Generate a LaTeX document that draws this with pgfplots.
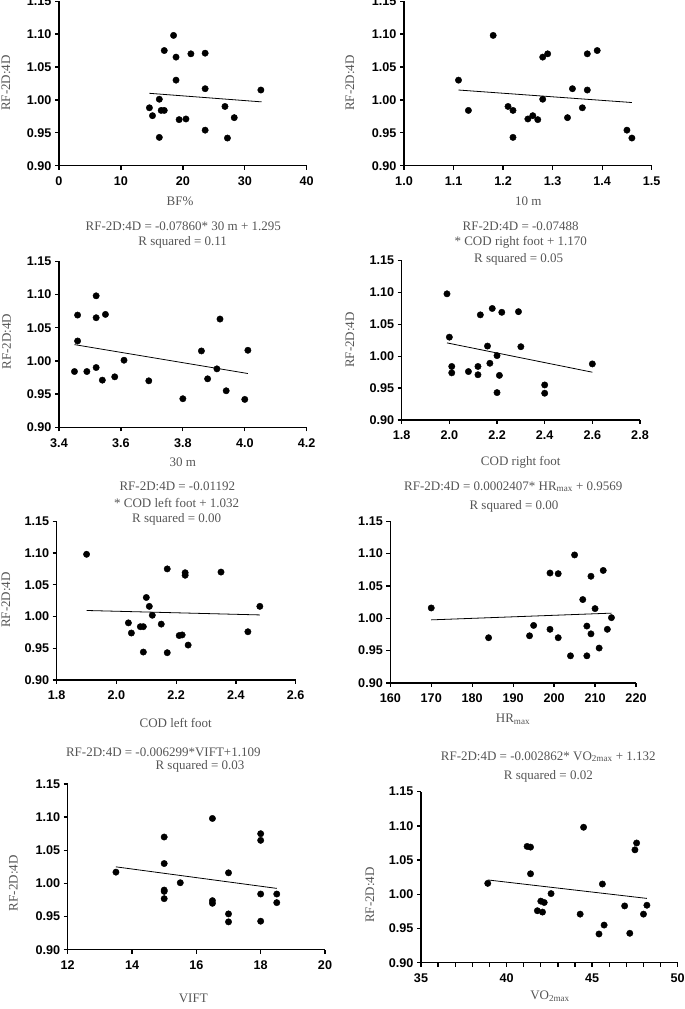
\documentclass[border=0pt]{standalone}
\usepackage{pgfplots}
\pgfplotsset{compat=1.18}
\usepackage{fontspec}
\setmainfont{Liberation Serif}
\newfontfamily\tickfont{Liberation Sans}
\definecolor{lbl}{RGB}{85,85,85}
\pgfkeys{/pgf/number format/assume math mode=true}
\pgfplotsset{
  rf/.style={
    scale only axis,
    axis lines*=left,
    axis line style={line width=1.5pt, black},
    every tick/.style={line width=1.3pt, black},
    tick align=outside,
    major tick length=4pt,
    minor tick length=4pt,
    ymin=0.90, ymax=1.15,
    ytick={0.90,0.95,1.00,1.05,1.10,1.15},
    yticklabel={\pgfmathprintnumber[fixed,fixed zerofill,precision=2]{\tick}},
    ticklabel style={font=\tickfont\bfseries\fontsize{12.6}{13}\selectfont, black},
    xticklabel style={yshift=-3.5pt},
    anchor=south west,
    clip=false,
  },
  pts/.style={only marks, mark=*, mark size=3.2pt, black},
  fit/.style={no marks, black, line width=0.8pt},
  x1/.style={xticklabel={\pgfmathprintnumber[fixed,fixed zerofill,precision=1]{\tick}}},
}
\newcommand{\lf}{\fontsize{13}{15}\selectfont\color{lbl}}
\begin{document}
\begin{tikzpicture}
\path[use as bounding box] (0,0) rectangle (685pt,1009pt);

% ---------- Panel 1: BF%
\begin{axis}[rf, at={(59pt,843.3pt)}, width=247.7pt, height=164.5pt,
  xmin=0, xmax=40, xtick={0,10,20,30,40}]
\addplot[pts] coordinates {(18.5,1.098) (17.0,1.075) (18.9,1.065) (21.3,1.070) (23.6,1.071) (18.9,1.030) (23.6,1.017) (32.6,1.015) (16.2,1.001) (14.6,0.988) (15.1,0.976) (16.5,0.984) (17.0,0.984) (19.4,0.970) (20.5,0.971) (26.8,0.990) (28.3,0.973) (23.6,0.954) (16.2,0.943) (27.2,0.942)};
\addplot[fit] coordinates {(14.6,1.010) (32.7,0.997)};
\end{axis}
\node[rotate=90,inner sep=0] at (6pt,926pt) {\lf RF-2D:4D};
\node[inner sep=0] at (180pt,807.3pt) {\lf BF\%};

% ---------- Panel 2: 10 m
\begin{axis}[rf, x1, at={(404pt,843.3pt)}, width=247.7pt, height=164.5pt,
  xmin=1.0, xmax=1.5, xtick={1.0,1.1,1.2,1.3,1.4,1.5}]
\addplot[pts] coordinates {(1.18,1.098) (1.11,1.030) (1.13,0.984) (1.21,0.990) (1.22,0.984) (1.22,0.943) (1.25,0.971) (1.26,0.976) (1.27,0.970) (1.28,1.001) (1.28,1.065) (1.29,1.070) (1.33,0.973) (1.34,1.017) (1.36,0.988) (1.37,1.070) (1.37,1.015) (1.39,1.075) (1.45,0.954) (1.46,0.942)};
\addplot[fit] coordinates {(1.11,1.015) (1.46,0.996)};
\end{axis}
\node[rotate=90,inner sep=0] at (350pt,926pt) {\lf RF-2D:4D};
\node[inner sep=0] at (528.3pt,808pt) {\lf 10 m};

% ---------- Panel 3: 30 m
\begin{axis}[rf, x1, at={(59pt,581.7pt)}, width=247.7pt, height=166pt,
  xmin=3.4, xmax=4.2, xtick={3.4,3.6,3.8,4.0,4.2}]
\addplot[pts] coordinates {(3.46,1.069) (3.52,1.098) (3.52,1.065) (3.55,1.070) (3.46,1.030) (3.45,0.984) (3.49,0.984) (3.52,0.990) (3.54,0.971) (3.58,0.976) (3.61,1.001) (3.69,0.970) (3.80,0.943) (3.86,1.015) (3.88,0.973) (3.91,0.988) (3.92,1.063) (3.94,0.955) (4.00,0.942) (4.01,1.016)};
\addplot[fit] coordinates {(3.45,1.0245) (4.01,0.981)};
\end{axis}
\node[rotate=90,inner sep=0] at (6.7pt,667.3pt) {\lf RF-2D:4D};
\node[inner sep=0] at (183.3pt,782.3pt) {\lf RF-2D:4D = -0.07860* 30 m + 1.295};
\node[inner sep=0] at (182.7pt,766.7pt) {\lf R squared = 0.11};
\node[inner sep=0] at (182.7pt,546.7pt) {\lf 30 m};

% ---------- Panel 4: COD right foot
\begin{axis}[rf, x1, at={(401.7pt,589pt)}, width=238.3pt, height=159.3pt,
  xmin=1.8, xmax=2.8, xtick={1.8,2.0,2.2,2.4,2.6,2.8}]
\addplot[pts] coordinates {(1.99,1.098) (2.00,1.030) (2.01,0.984) (2.01,0.974) (2.08,0.976) (2.12,0.984) (2.12,0.971) (2.13,1.065) (2.18,1.075) (2.16,1.016) (2.17,0.989) (2.20,1.001) (2.20,0.943) (2.21,0.970) (2.22,1.069) (2.29,1.070) (2.30,1.015) (2.40,0.955) (2.40,0.942) (2.60,0.988)};
\addplot[fit] coordinates {(1.99,1.021) (2.60,0.975)};
\end{axis}
\node[rotate=90,inner sep=0] at (350pt,669pt) {\lf RF-2D:4D};
\node[inner sep=0] at (520.7pt,782.3pt) {\lf RF-2D:4D = -0.07488};
\node[inner sep=0] at (520.7pt,766.3pt) {\lf * COD right foot + 1.170};
\node[inner sep=0] at (518.7pt,750pt) {\lf R squared = 0.05};
\node[inner sep=0] at (520.7pt,547pt) {\lf COD right foot};

% ---------- Panel 5: COD left foot
\begin{axis}[rf, x1, at={(56.7pt,329pt)}, width=239pt, height=158.7pt,
  xmin=1.8, xmax=2.6, xtick={1.8,2.0,2.2,2.4,2.6}]
\addplot[pts] coordinates {(1.90,1.098) (2.17,1.075) (2.23,1.069) (2.23,1.065) (2.35,1.070) (2.10,1.030) (2.11,1.016) (2.12,1.002) (2.15,0.988) (2.04,0.990) (2.05,0.974) (2.08,0.984) (2.09,0.984) (2.09,0.944) (2.21,0.970) (2.22,0.971) (2.17,0.943) (2.24,0.955) (2.44,0.976) (2.48,1.016)};
\addplot[fit] coordinates {(1.90,1.0095) (2.48,1.0025)};
\end{axis}
\node[rotate=90,inner sep=0] at (6pt,409pt) {\lf RF-2D:4D};
\node[inner sep=0] at (177.3pt,522.3pt) {\lf RF-2D:4D = -0.01192};
\node[inner sep=0] at (176.7pt,505.7pt) {\lf * COD left foot + 1.032};
\node[inner sep=0] at (176.7pt,489.3pt) {\lf R squared = 0.00};
\node[inner sep=0] at (175.7pt,286.5pt) {\lf COD left foot};

% ---------- Panel 6: HRmax
\begin{axis}[rf, at={(390.3pt,326pt)}, width=245.7pt, height=161.7pt,
  xmin=160, xmax=220, xtick={160,170,...,220}]
\addplot[pts] coordinates {(170,1.016) (184,0.970) (194,0.973) (195,0.989) (199,1.070) (199,0.983) (201,1.069) (201,0.970) (205,1.098) (204,0.942) (207,1.029) (208,0.942) (208,0.988) (209,1.065) (209,0.976) (210,1.015) (211,0.954) (212,1.074) (213,0.983) (214,1.001)};
\addplot[fit] coordinates {(170,0.9976) (214,1.008)};
\end{axis}
\node[inner sep=0] at (513.3pt,522.3pt) {\lf RF-2D:4D = 0.0002407* HR\textsubscript{max} + 0.9569};
\node[inner sep=0] at (514pt,503pt) {\lf R squared = 0.00};
\node[inner sep=0] at (513pt,290pt) {\lf HR\textsubscript{max}};

% ---------- Panel 7: VIFT
\begin{axis}[rf, at={(67.7pt,59.3pt)}, width=257.3pt, height=165.7pt,
  xmin=12, xmax=20, xtick={12,14,16,18,20}]
\addplot[pts] coordinates {(13.5,1.017) (15,1.070) (15,1.030) (15,0.990) (15,0.988) (15,0.977) (15.5,1.001) (16.5,1.098) (16.5,0.974) (16.5,0.970) (17,1.016) (17,0.954) (17,0.942) (18,1.075) (18,1.065) (18,0.984) (18,0.943) (18.5,0.984) (18.5,0.971)};
\addplot[fit] coordinates {(13.5,1.025) (18.5,0.9925)};
\end{axis}
\node[rotate=90,inner sep=0] at (13.3pt,125.7pt) {\lf RF-2D:4D};
\node[inner sep=0] at (163.3pt,256.3pt) {\lf RF-2D:4D = -0.006299*VIFT+1.109};
\node[inner sep=0] at (200pt,242.3pt) {\lf R squared = 0.03};
\node[inner sep=0] at (193.3pt,11pt) {\lf VIFT};

% ---------- Panel 8: VO2max
\begin{axis}[rf, at={(421pt,46.3pt)}, width=256.7pt, height=171pt,
  xmin=35, xmax=50, xtick={35,40,45,50}, minor x tick num=4]
\addplot[pts] coordinates {(38.9,1.016) (41.2,1.070) (41.4,1.069) (41.4,1.030) (41.8,0.976) (42.0,0.990) (42.2,0.988) (42.1,0.974) (42.6,1.001) (44.3,0.971) (44.5,1.098) (45.4,0.942) (45.6,1.015) (45.7,0.955) (46.9,0.983) (47.2,0.943) (47.5,1.065) (47.6,1.075) (48.0,0.971) (48.2,0.984)};
\addplot[fit] coordinates {(38.9,1.021) (48.2,0.994)};
\end{axis}
\node[rotate=90,inner sep=0] at (370pt,114pt) {\lf RF-2D:4D};
\node[inner sep=0] at (548.3pt,252.3pt) {\lf RF-2D:4D = -0.002862* VO\textsubscript{2max} + 1.132};
\node[inner sep=0] at (548.3pt,233pt) {\lf R squared = 0.02};
\node[inner sep=0] at (550pt,13pt) {\lf VO\textsubscript{2max}};
\end{tikzpicture}
\end{document}
